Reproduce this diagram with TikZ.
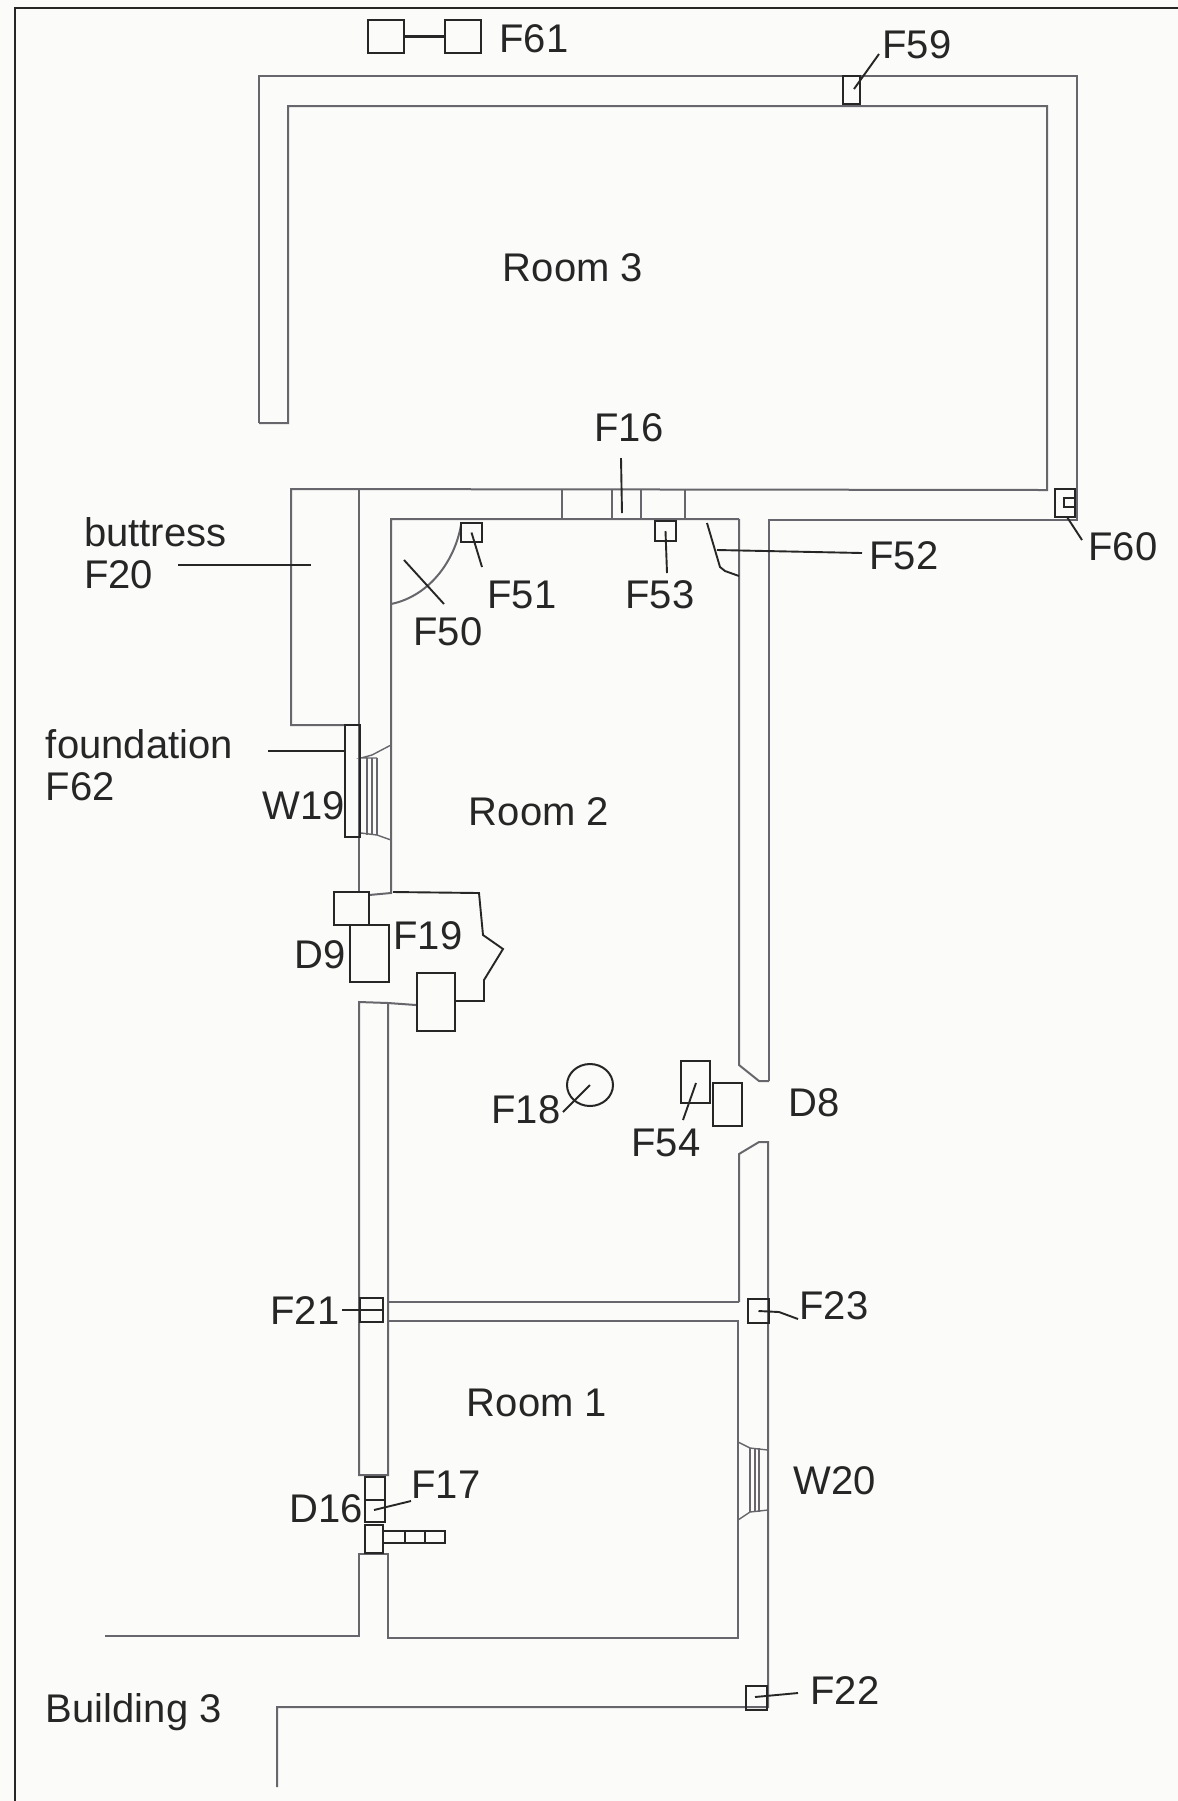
\documentclass[tikz,border=0pt]{standalone}
\usepackage{fontspec}
\usetikzlibrary{shapes.geometric}
\setmainfont{Liberation Sans}
\definecolor{paper}{HTML}{FBFCF9}
\definecolor{wallc}{HTML}{66666C}
\definecolor{inkc}{HTML}{262626}
\tikzset{
  wall/.style={draw=wallc,line width=1pt,line join=miter},
  thinwall/.style={draw=wallc,line width=0.7pt},
  lead/.style={draw=inkc,line width=0.95pt},
  plotbox/.style={draw=inkc,line width=1pt,inner sep=0pt,outer sep=0pt,rectangle},
  lbl/.style={font=\fontsize{20pt}{23pt}\selectfont,text=inkc,inner sep=0pt,outer sep=0pt},
  lblleft/.style={lbl,align=left,anchor=west}
}
\newcommand\pbox[5]{%
  \pgfmathsetmacro\pbx{(#2+#4)/2}\pgfmathsetmacro\pby{(#3+#5)/2}%
  \pgfmathsetmacro\pbw{(#4-#2)*0.5}\pgfmathsetmacro\pbh{(#5-#3)*0.5}%
  \node[plotbox,minimum width=\pbw pt,minimum height=\pbh pt] (#1) at (\pbx,\pby) {};}
\begin{document}
\begin{tikzpicture}[x=0.5pt,y=-0.5pt]
\useasboundingbox (0,0) rectangle (1178,1801);
\fill[paper] (0,0) rectangle (1178,1801);
% page frame
\draw[inkc,line width=1.1pt] (1178,8) -- (15,8) -- (15,1801);
% walls
\draw[wall] (259,423) -- (259,76) -- (1077,76) -- (1077,520) -- (769,520) -- (769,1081);
\draw[wall] (259,423) -- (288,423) -- (288,106) -- (1047,106) -- (1047,490) -- (291,489) -- (291,725) -- (345,725);
\draw[wall] (359,489) -- (359,892);
\draw[wall] (739,519) -- (391,519) -- (391,893) -- (369,895);
\draw[wall] (739,519) -- (739,1065) -- (759,1081) -- (769,1081);
\draw[wall] (739,1302) -- (739,1154) -- (759,1142) -- (768,1142) -- (768,1707) -- (277,1707) -- (277,1787);
\draw[wall] (416,1005) -- (388,1003) -- (359,1002) -- (359,1475) -- (388,1475) -- (388,1003);
\draw[wall] (388,1302) -- (739,1302);
\draw[wall] (388,1475) -- (388,1321) -- (738,1321) -- (738,1638) -- (388,1638) -- (388,1554) -- (359,1554) -- (359,1636) -- (105,1636);
% F16 marks
\draw[wall] (562,490) -- (562,520) (612,490) -- (612,520) (641,490) -- (641,520) (685,490) -- (685,520);
% window W19
\draw[thinwall] (391,745) -- (372,755) -- (361,758) -- (377,758);
\draw[thinwall] (361,833) -- (377,835) -- (391,840);
\draw[thinwall] (367,758) -- (367,835) (372,758) -- (372,835) (377,758) -- (377,835);
% window W20
\draw[thinwall] (738,1442) -- (750,1448) -- (768,1450);
\draw[thinwall] (738,1520) -- (750,1512) -- (768,1510);
\draw[thinwall] (750,1448) -- (750,1512) (755,1448) -- (755,1512) (759,1448) -- (759,1512);
% F50 arc
\draw[wall] (391,604) .. controls (430,596) and (455,560) .. (461,525);
% boxes
\pbox{f61a}{368}{20}{404}{53}
\pbox{f61b}{445}{20}{481}{53}
\draw[inkc,line width=1.4pt] (f61a.east) -- (f61b.west);
\pbox{f59}{843}{76}{860}{104}
\pbox{f60}{1055}{489}{1075}{517}
\draw[inkc,line width=1pt] (1075,498) -- (1064,498) -- (1064,507) -- (1075,507);
\pbox{f51}{461}{523}{482}{542}
\pbox{f53}{655}{521}{676}{541}
\pbox{w19}{345}{725}{360}{837}
\pbox{f19a}{334}{892}{369}{925}
\pbox{d9}{350}{925}{388.5}{982}
\pbox{f19c}{416.5}{973}{455}{1031}
\pbox{f54a}{681}{1061}{710}{1103}
\pbox{f54b}{713}{1083}{742}{1126}
\pbox{f21}{360}{1298}{383}{1322}
\pbox{f23}{748}{1299}{769}{1323}
\pbox{d16a}{365}{1477}{385}{1500}
\pbox{d16b}{365}{1500}{385}{1522}
\pbox{d16c}{365}{1525}{383}{1553}
\pbox{d16d}{383}{1531}{405}{1543}
\pbox{d16e}{405}{1531}{425}{1543}
\pbox{d16f}{425}{1531}{445}{1543}
\pbox{f22}{746}{1686}{767}{1710}
\node[draw=inkc,line width=1pt,ellipse,inner sep=0pt,minimum width=23pt,minimum height=21pt] (f18) at (590,1085) {};
% F19 outline
\coordinate (f19k) at (484,1001);
\draw[lead] (393,892) -- (479,893) -- (483,935) -- (503,949) -- (484,980) -- (f19k) -- (f19k -| f19c.east);
% labels
\node[lbl] (tF61) at (534,39) {F61};
\node[lbl] (tF59) at (917,45) {F59};
\node[lbl] (tF60) at (1123,547) {F60};
\node[lbl] (tF52) at (904,556) {F52};
\node[lbl] (tF16) at (629,428) {F16};
\node[lbl] (tF51) at (522,595) {F51};
\node[lbl] (tF53) at (660,595) {F53};
\node[lbl] (tF50) at (448,632) {F50};
\node[lbl] (tW19) at (304,806) {W19};
\node[lbl] (tF19) at (428,936) {F19};
\node[lbl] (tD9) at (320,955) {D9};
\node[lbl] (tF18) at (526,1110) {F18};
\node[lbl] (tF54) at (666,1143) {F54};
\node[lbl] (tD8) at (814,1103) {D8};
\node[lbl] (tF21) at (305,1311) {F21};
\node[lbl] (tF23) at (834,1306) {F23};
\node[lbl] (tF17) at (446,1485) {F17};
\node[lbl] (tD16) at (326,1509) {D16};
\node[lbl] (tF22) at (845,1691) {F22};
\node[lbl] (tW20) at (835,1481) {W20};
\node[lbl] (tR1) at (537,1403) {Room 1};
\node[lbl] (tR2) at (539,812) {Room 2};
\node[lbl] (tR3) at (573,268) {Room 3};
\node[lblleft] (tB3) at (46,1712) {Building 3};
\node[lblleft] (tBut) at (84,532) {buttress};
\node[lblleft] (tF20) at (84,575) {F20};
\node[lblleft] (tFou) at (46,744) {foundation};
\node[lblleft] (tF62) at (46,787) {F62};
% leader end points
\coordinate (e59a) at (854,89);  \coordinate (e59b) at (879,54);
\coordinate (e60a) at (1067,517); \coordinate (e60b) at (1082,540);
\coordinate (e52b) at (862,553); \coordinate (e52a) at (717,550);
\coordinate (e16a) at (621,458); \coordinate (e16b) at (622,513);
\coordinate (e51b) at (482,567);
\coordinate (e53b) at (667,573);
\coordinate (e50a) at (404,560); \coordinate (e50b) at (444,604);
\coordinate (e20a) at (178,565); \coordinate (e20b) at (311,565);
\coordinate (e62a) at (268,751); \coordinate (e62b) at (345,751);
\coordinate (e18b) at (563,1112);
\coordinate (e54a) at (696,1083); \coordinate (e54b) at (683,1120);
\coordinate (e21a) at (342,1310);
\coordinate (e23b) at (798,1319); \coordinate (e23m) at (779,1312);
\coordinate (e17a) at (374,1510); \coordinate (e17b) at (411,1501);
\coordinate (e22a) at (755,1697); \coordinate (e22b) at (798,1693);
% leaders
\draw[lead] (e59a) -- (e59b);
\draw[lead] (e60a) -- (e60b);
\draw[lead] (707,523) -- (720,567) -- (725,571) -- (739,576);
\draw[lead] (e52a) -- (e52b);
\draw[lead] (e16a) -- (e16b);
\draw[lead] (f51.center) -- (e51b);
\draw[lead] (f53.center) -- (e53b);
\draw[lead] (e50a) -- (e50b);
\draw[lead] (e20a) -- (e20b);
\draw[lead] (e62a) -- (e62b);
\draw[lead] (f18.center) -- (e18b);
\draw[lead] (e54a) -- (e54b);
\draw[lead] (e21a) -- (f21.east);
\draw[lead] (f23.center) -- (e23m) -- (e23b);
\draw[lead] (e17a) -- (e17b);
\draw[lead] (e22a) -- (e22b);
\end{tikzpicture}
\end{document}
